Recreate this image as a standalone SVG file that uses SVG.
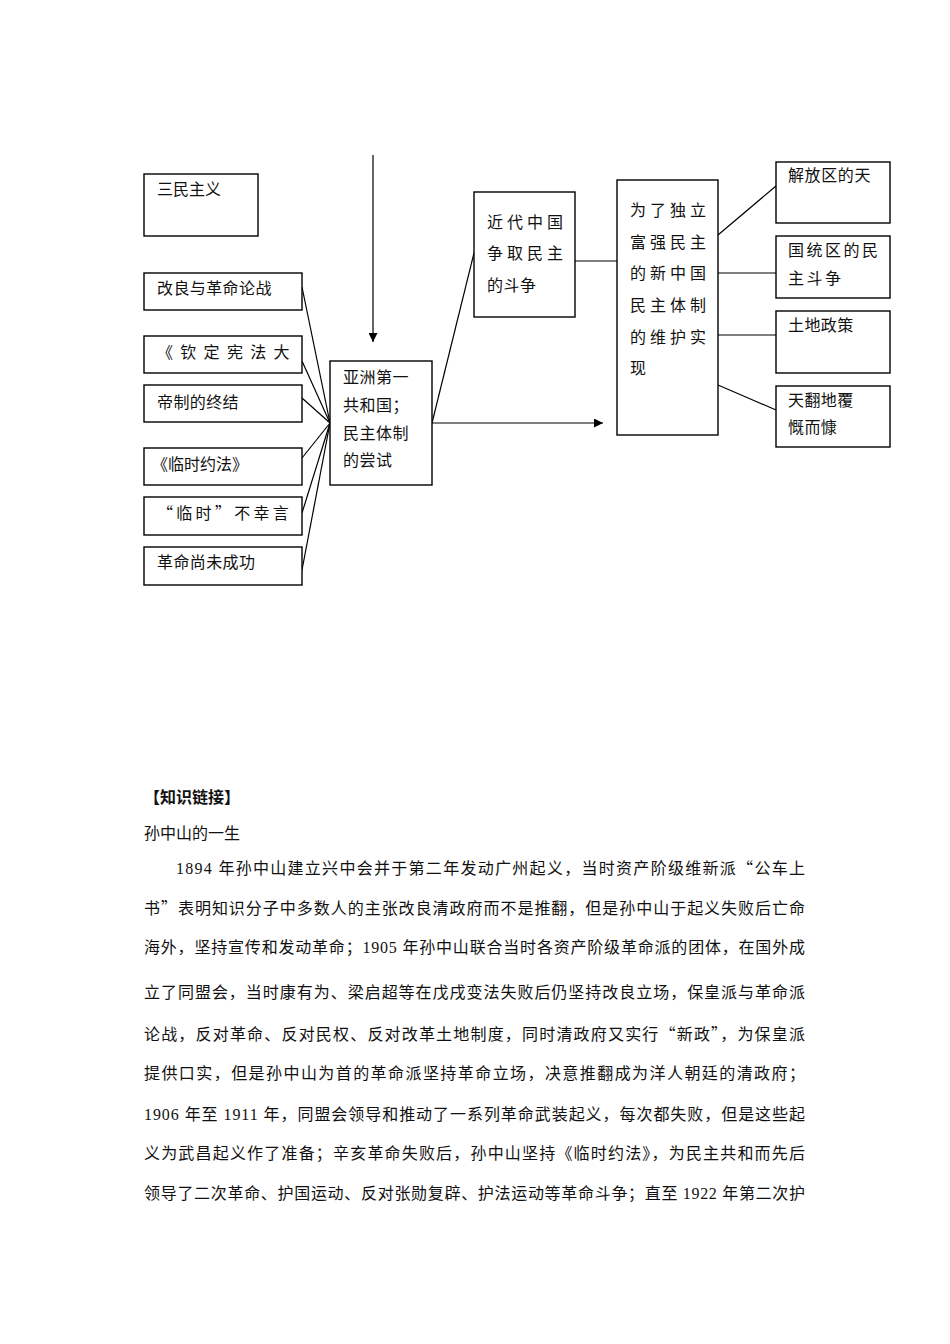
<svg xmlns="http://www.w3.org/2000/svg" width="950" height="1344" viewBox="0 0 950 1344">
<style>
.box{fill:#fff;stroke:#000;stroke-width:1.4}
.t{font-family:"Noto Sans CJK SC","Liberation Serif",sans-serif;font-size:16px;fill:#111}
.p{font-family:"Noto Sans CJK SC","Liberation Serif",sans-serif;font-size:16px;fill:#111}
.n{font-family:"Liberation Serif",serif}
.c{fill:none;stroke:#000;stroke-width:1.2}
</style>
<defs>
<marker id="ah" viewBox="0 0 10 10" refX="10" refY="5" markerWidth="10" markerHeight="9" markerUnits="userSpaceOnUse" orient="auto">
<path d="M0,0 L10,5 L0,10 z" fill="#000"/>
</marker>
</defs>
<rect width="950" height="1344" fill="#fff"/>

<g id="connectors">
<line class="c" x1="373" y1="155" x2="373" y2="342" marker-end="url(#ah)"/>
<line class="c" x1="302" y1="287" x2="330" y2="423"/>
<line class="c" x1="302" y1="361" x2="330" y2="423"/>
<line class="c" x1="302" y1="398" x2="330" y2="423"/>
<line class="c" x1="302" y1="458" x2="330" y2="423"/>
<line class="c" x1="302" y1="513" x2="330" y2="423"/>
<line class="c" x1="302" y1="570" x2="330" y2="423"/>
<line class="c" x1="432" y1="423" x2="603" y2="423" marker-end="url(#ah)"/>
<line class="c" x1="432" y1="423" x2="474" y2="253"/>
<line class="c" x1="575" y1="261" x2="617" y2="261"/>
<line class="c" x1="718" y1="235" x2="776" y2="186"/>
<line class="c" x1="718" y1="273" x2="776" y2="273"/>
<line class="c" x1="718" y1="335" x2="776" y2="335"/>
<line class="c" x1="718" y1="385" x2="776" y2="410"/>
</g>

<g id="sanmin">
<rect class="box" x="144" y="174" width="114" height="62"/>
<text class="t" x="157" y="195">三民主义</text>
</g>
<g id="gailiang">
<rect class="box" x="144" y="273" width="158" height="37"/>
<text class="t" x="157" y="294" letter-spacing="0.4">改良与革命论战</text>
</g>
<g id="qinding">
<rect class="box" x="144" y="336" width="158" height="37"/>
<text class="t" x="157" y="358" letter-spacing="7.3">《钦定宪法大</text>
</g>
<g id="dizhi">
<rect class="box" x="144" y="385" width="158" height="37"/>
<text class="t" x="157" y="408" letter-spacing="0.4">帝制的终结</text>
</g>
<g id="linshiyuefa">
<rect class="box" x="144" y="448" width="158" height="37"/>
<text class="t" x="152" y="470">《临时约法》</text>
</g>
<g id="buxingyan">
<rect class="box" x="144" y="497" width="158" height="38"/>
<text class="t" x="157" y="519" letter-spacing="3.3">“临时”不幸言</text>
</g>
<g id="shangwei">
<rect class="box" x="144" y="547" width="158" height="38"/>
<text class="t" x="157" y="568" letter-spacing="0.4">革命尚未成功</text>
</g>
<g id="yazhou">
<rect class="box" x="330" y="361" width="102" height="124"/>
<text class="t" x="343" y="383" letter-spacing="0.5">亚洲第一</text>
<text class="t" x="343" y="411" letter-spacing="0.5">共和国；</text>
<text class="t" x="343" y="439" letter-spacing="0.5">民主体制</text>
<text class="t" x="343" y="466" letter-spacing="0.5">的尝试</text>
</g>
<g id="jindai">
<rect class="box" x="474" y="192" width="101" height="125"/>
<text class="t" x="487" y="228" letter-spacing="4">近代中国</text>
<text class="t" x="487" y="259" letter-spacing="4">争取民主</text>
<text class="t" x="487" y="291" letter-spacing="0.5">的斗争</text>
</g>
<g id="xinzhongguo">
<rect class="box" x="617" y="180" width="101" height="255"/>
<text class="t" x="630" y="216" letter-spacing="4">为了独立</text>
<text class="t" x="630" y="248" letter-spacing="4">富强民主</text>
<text class="t" x="630" y="279" letter-spacing="4">的新中国</text>
<text class="t" x="630" y="311" letter-spacing="4">民主体制</text>
<text class="t" x="630" y="343" letter-spacing="4">的维护实</text>
<text class="t" x="630" y="374">现</text>
</g>
<g id="jiefangqu">
<rect class="box" x="776" y="162" width="114" height="61"/>
<text class="t" x="788" y="181" letter-spacing="0.6">解放区的天</text>
</g>
<g id="guotongqu">
<rect class="box" x="776" y="236" width="114" height="62"/>
<text class="t" x="788" y="256" letter-spacing="2.5">国统区的民</text>
<text class="t" x="788" y="284" letter-spacing="2.5">主斗争</text>
</g>
<g id="tudi">
<rect class="box" x="776" y="311" width="114" height="62"/>
<text class="t" x="788" y="331" letter-spacing="0.4">土地政策</text>
</g>
<g id="tianfan">
<rect class="box" x="776" y="386" width="114" height="61"/>
<text class="t" x="788" y="406" letter-spacing="0.4">天翻地覆</text>
<text class="t" x="788" y="433" letter-spacing="0.4">慨而慷</text>
</g>

<g id="article">
<text class="p" x="144" y="803" font-weight="bold">【知识链接】</text>
<text class="p" x="144" y="839">孙中山的一生</text>
<text class="p" x="176" y="874" textLength="629" lengthAdjust="spacing"><tspan class="n">1894 </tspan>年孙中山建立兴中会并于第二年发动广州起义，当时资产阶级维新派“公车上</text>
<text class="p" x="144" y="914" textLength="661" lengthAdjust="spacing">书”表明知识分子中多数人的主张改良清政府而不是推翻，但是孙中山于起义失败后亡命</text>
<text class="p" x="144" y="953" textLength="661" lengthAdjust="spacing">海外，坚持宣传和发动革命；<tspan class="n">1905 </tspan>年孙中山联合当时各资产阶级革命派的团体，在国外成</text>
<text class="p" x="144" y="998" textLength="661" lengthAdjust="spacing">立了同盟会，当时康有为、梁启超等在戊戌变法失败后仍坚持改良立场，保皇派与革命派</text>
<text class="p" x="144" y="1040" textLength="661" lengthAdjust="spacing">论战，反对革命、反对民权、反对改革土地制度，同时清政府又实行“新政”，为保皇派</text>
<text class="p" x="144" y="1079" textLength="661" lengthAdjust="spacing">提供口实，但是孙中山为首的革命派坚持革命立场，决意推翻成为洋人朝廷的清政府；</text>
<text class="p" x="144" y="1120" textLength="661" lengthAdjust="spacing"><tspan class="n">1906 </tspan>年至<tspan class="n"> 1911 </tspan>年，同盟会领导和推动了一系列革命武装起义，每次都失败，但是这些起</text>
<text class="p" x="144" y="1159" textLength="661" lengthAdjust="spacing">义为武昌起义作了准备；辛亥革命失败后，孙中山坚持《临时约法》，为民主共和而先后</text>
<text class="p" x="144" y="1199" textLength="661" lengthAdjust="spacing">领导了二次革命、护国运动、反对张勋复辟、护法运动等革命斗争；直至<tspan class="n"> 1922 </tspan>年第二次护</text>
</g>
</svg>
